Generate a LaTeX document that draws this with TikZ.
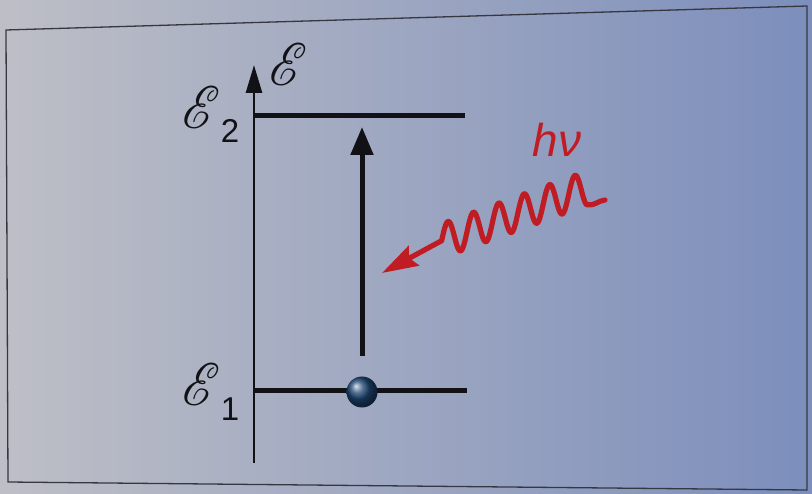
\documentclass[tikz,border=0pt]{standalone}
\usepackage{fontspec}
\setsansfont{Liberation Sans}
\usepackage{mathrsfs}
\usetikzlibrary{arrows.meta,calc}
\definecolor{bgL}{RGB}{190,191,198}
\definecolor{bgR}{RGB}{124,142,188}
\definecolor{framec}{RGB}{55,55,65}
\definecolor{ink}{RGB}{18,18,22}
\definecolor{photonred}{RGB}{192,28,36}
\definecolor{ballc}{RGB}{30,70,115}
\begin{document}
\begin{tikzpicture}[x=1pt,y=-1pt,
  level/.style={line width=5pt, draw=ink},
  axisline/.style={line width=2.8pt, draw=ink, -{Triangle[length=28pt,width=16pt]}},
  excite/.style={line width=5pt, draw=ink, -{Triangle[length=28pt,width=22pt]}},
  photon/.style={line width=5.2pt, draw=photonred, line cap=round, line join=round},
  scriptlbl/.style={inner sep=0pt, text=ink, font=\fontsize{10pt}{12pt}\selectfont, xscale=5.1, yscale=6},
  digit/.style={inner sep=0pt, text=ink, font=\sffamily\fontsize{33pt}{33pt}\selectfont},
  photonlbl/.style={inner sep=0pt, text=photonred, font=\sffamily\itshape\fontsize{46pt}{46pt}\selectfont}
]
\useasboundingbox (0,0) rectangle (812,494);
\shade[left color=bgL, right color=bgR] (0,0) rectangle (812,494);
\draw[framec, line width=1.3pt] (6,30) -- (807,6) -- (807,490) -- (8,482) -- cycle;

% axis
\coordinate (ax0) at (254,463);
\coordinate (axT) at (254,65);
\draw[axisline] (ax0) -- (axT);
\node[scriptlbl] (Eaxis) at (289,65) {$\mathscr{E}$};

% levels
\coordinate (l2a) at (253,116);
\coordinate (l2b) at (465,116);
\coordinate (l1a) at (253,391);
\coordinate (l1b) at (467,391);
\draw[level] (l2a) -- (l2b);
\draw[level] (l1a) -- (l1b);

\node[scriptlbl] (E2) at (202,108) {$\mathscr{E}$};
\node[digit] (d2) at (230,131) {2};
\node[scriptlbl] (E1) at (202,385) {$\mathscr{E}$};
\node[digit] (d1) at (230,409) {1};

% excitation arrow
\coordinate (exS) at (362,356);
\coordinate (exE) at (362,127);
\draw[excite] (exS) -- (exE);

% electron
\node[circle, minimum size=31pt, inner sep=0pt, ball color=ballc] (ball) at (362,392) {};

% photon
\node[photonlbl] (hnu) at (557,140) {hν};
\coordinate (wL) at (441.65,240.7);
\coordinate (tip) at (382,273);
\coordinate (wEnd) at (605,200);
\draw[photon] plot[domain=-6.35:139.7, samples=220, smooth] ({448+\x},{238.5 - 0.363*\x - 17*cos(14.1732*\x)}) to[out=-10,in=185] (wEnd);
\draw[photon, line cap=butt, -{Stealth[length=36pt,width=22pt,inset=5pt]}] (wL) -- (tip);
\end{tikzpicture}
\end{document}
